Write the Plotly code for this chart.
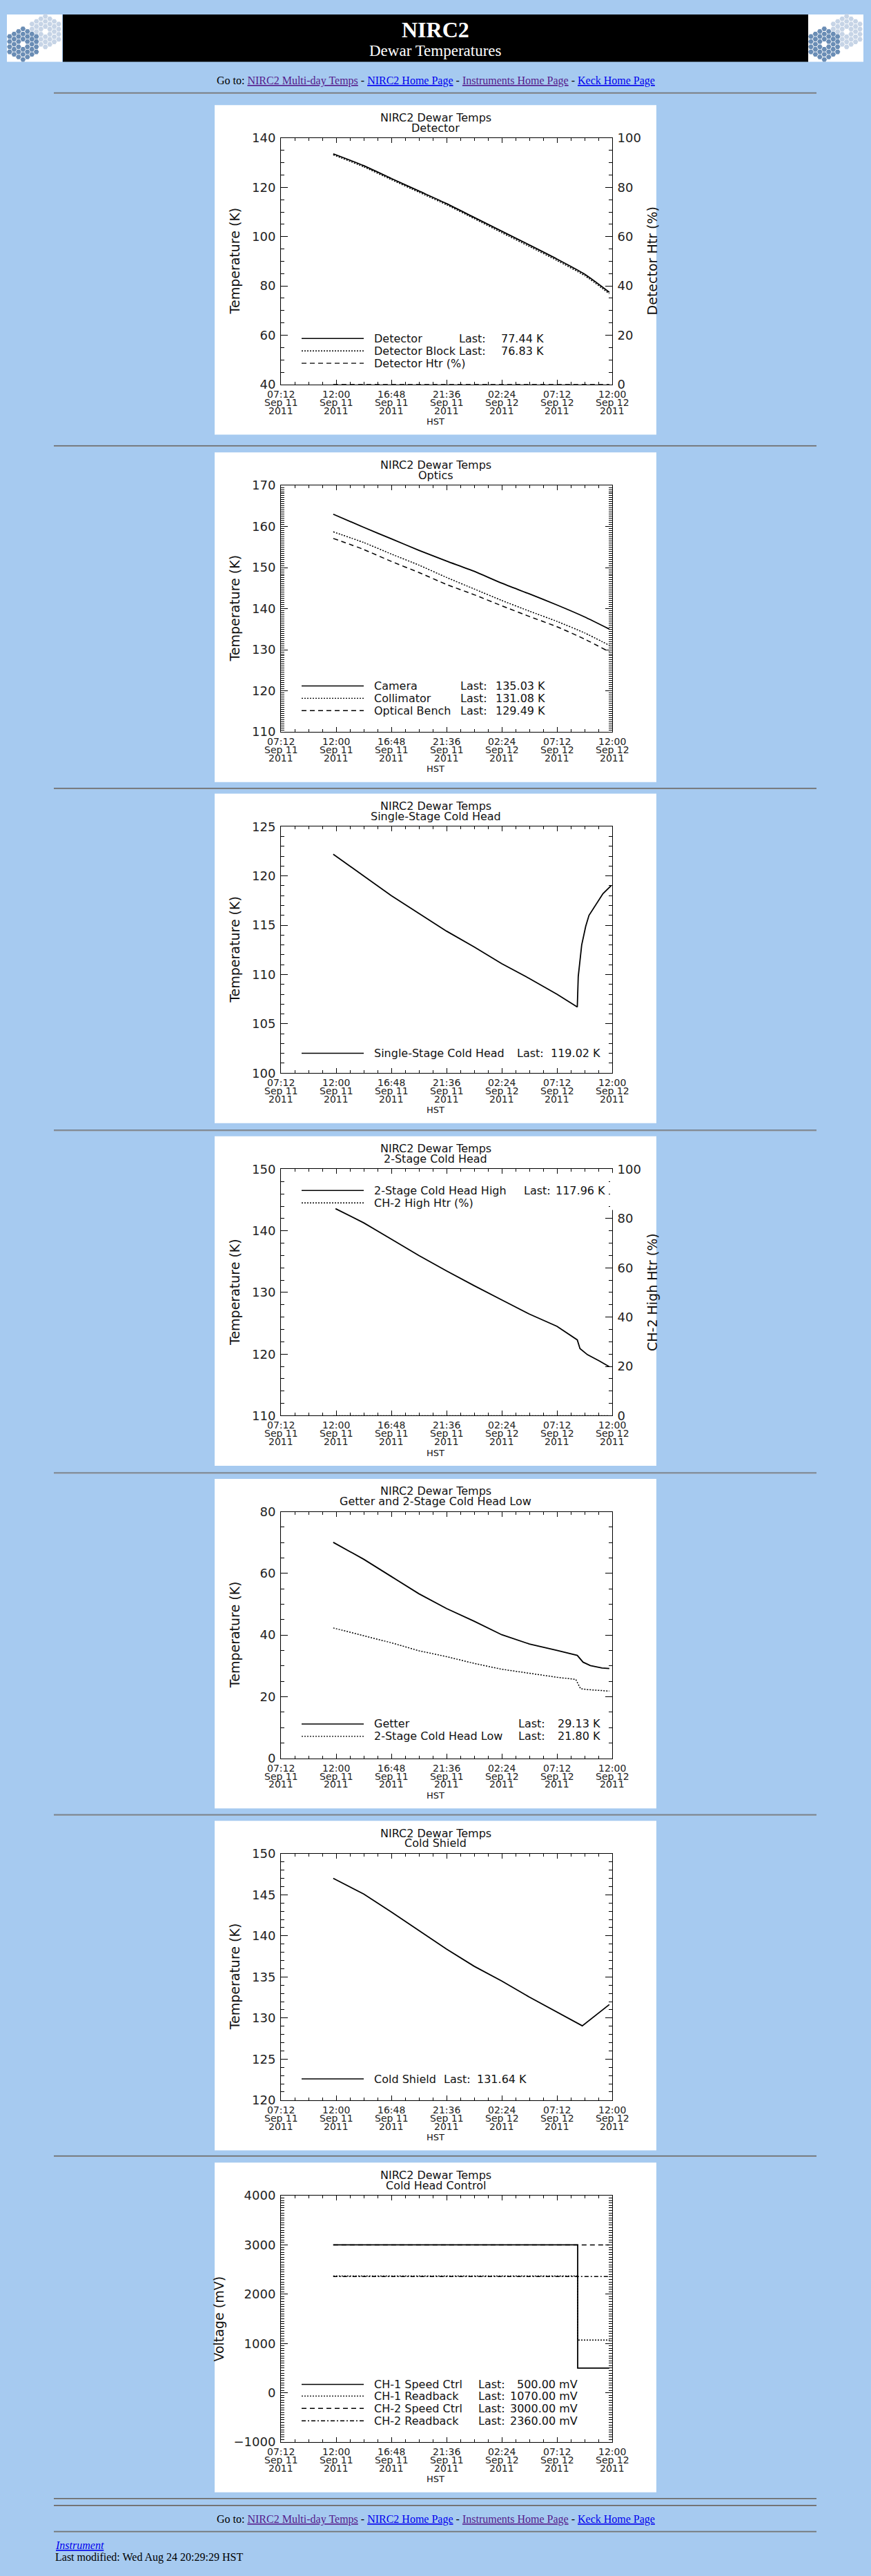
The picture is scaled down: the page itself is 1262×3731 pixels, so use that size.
import math
import plotly.graph_objects as go

W, H = 1262, 3731
BG = '#A6CAF0'
FONT = 'DejaVu Sans'
SERIF = 'Liberation Serif'

# ---------------- data ----------------
tick_times = ['2011-09-11 07:12', '2011-09-11 12:00', '2011-09-11 16:48', '2011-09-11 21:36',
              '2011-09-12 02:24', '2011-09-12 07:12', '2011-09-12 12:00']
tick_hhmm = ['07:12', '12:00', '16:48', '21:36', '02:24', '07:12', '12:00']
tick_day = ['Sep 11', 'Sep 11', 'Sep 11', 'Sep 11', 'Sep 12', 'Sep 12', 'Sep 12']
tick_year = ['2011'] * 7

grid_time = ['2011-09-11 11:45', '2011-09-11 14:24', '2011-09-11 16:48', '2011-09-11 19:12',
             '2011-09-11 21:36', '2011-09-12 00:00', '2011-09-12 02:24', '2011-09-12 04:48',
             '2011-09-12 07:12', '2011-09-12 09:36', '2011-09-12 11:45']

# detector
det_temp = [133.6, 128.8, 123.6, 118.5, 113.4, 107.8, 102.2, 96.6, 90.9, 84.8, 77.44]
det_block = [133.2, 128.3, 123.1, 118.0, 112.9, 107.3, 101.6, 96.0, 90.3, 84.2, 76.83]
htr_time = ['2011-09-11 11:45', '2011-09-12 11:45']
det_htr = [0, 0]

# optics
camera = [163.0, 159.8, 157.0, 154.2, 151.6, 149.1, 146.2, 143.6, 140.9, 138.0, 135.03]
collimator = [158.7, 156.1, 153.3, 150.6, 147.6, 144.8, 142.0, 139.4, 136.9, 134.1, 131.08]
bench = [157.1, 154.4, 151.5, 148.8, 145.9, 143.4, 140.7, 138.1, 135.6, 132.6, 129.49]

# single-stage cold head
ss_time = ['2011-09-11 11:45', '2011-09-11 14:24', '2011-09-11 16:48', '2011-09-11 19:12',
           '2011-09-11 21:36', '2011-09-12 00:00', '2011-09-12 02:24', '2011-09-12 04:48',
           '2011-09-12 07:12', '2011-09-12 08:58', '2011-09-12 09:03', '2011-09-12 09:21',
           '2011-09-12 09:42', '2011-09-12 09:59', '2011-09-12 10:36', '2011-09-12 11:12',
           '2011-09-12 11:55']
ss_head = [122.2, 120.0, 118.0, 116.2, 114.4, 112.8, 111.1, 109.6, 108.0, 106.7, 109.8,
           113.0, 114.9, 116.0, 117.1, 118.2, 119.02]

# 2-stage cold head high
cs2_time = ['2011-09-11 11:57', '2011-09-11 14:24', '2011-09-11 16:48', '2011-09-11 19:12',
            '2011-09-11 21:36', '2011-09-12 00:00', '2011-09-12 02:24', '2011-09-12 04:48',
            '2011-09-12 07:12', '2011-09-12 08:58', '2011-09-12 09:12', '2011-09-12 09:51',
            '2011-09-12 10:52', '2011-09-12 11:45']
cs2_high = [143.6, 141.3, 138.65, 136.0, 133.5, 131.1, 128.8, 126.5, 124.5, 122.3, 120.9,
            119.9, 118.9, 117.96]
cs2_htr = [0, 0]

# getter and 2-stage low
get_time = ['2011-09-11 11:45', '2011-09-11 14:24', '2011-09-11 16:48', '2011-09-11 19:12',
            '2011-09-11 21:36', '2011-09-12 00:00', '2011-09-12 02:24', '2011-09-12 04:48',
            '2011-09-12 07:12', '2011-09-12 08:58', '2011-09-12 09:28', '2011-09-12 10:06',
            '2011-09-12 11:07', '2011-09-12 11:45']
getter = [70.1, 64.6, 59.0, 53.4, 48.6, 44.5, 40.1, 37.1, 35.0, 33.4, 31.2, 30.1, 29.3, 29.13]
low_time = ['2011-09-11 11:45', '2011-09-11 14:24', '2011-09-11 16:48', '2011-09-11 19:12',
            '2011-09-11 21:36', '2011-09-12 00:00', '2011-09-12 02:24', '2011-09-12 04:48',
            '2011-09-12 07:12', '2011-09-12 08:50', '2011-09-12 09:15', '2011-09-12 09:51',
            '2011-09-12 11:45']
ch2_low = [42.3, 39.7, 37.5, 34.9, 33.0, 30.8, 28.9, 27.6, 26.3, 25.6, 22.6, 22.3, 21.80]

# cold shield
shield_time = ['2011-09-11 11:45', '2011-09-11 14:24', '2011-09-11 16:48', '2011-09-11 19:12',
               '2011-09-11 21:36', '2011-09-12 00:00', '2011-09-12 02:24', '2011-09-12 04:48',
               '2011-09-12 07:12', '2011-09-12 09:12', '2011-09-12 09:24', '2011-09-12 11:45']
shield = [147.0, 145.1, 142.9, 140.65, 138.4, 136.3, 134.5, 132.55, 130.7, 129.2, 129.05, 131.64]

# cold head control (step data)
ctl_time = ['2011-09-11 11:45', '2011-09-12 09:00', '2011-09-12 11:45']
ch1_speed = [3000, 500, 500]
ch1_read = [2370, 1070, 1070]
ch2_speed = [3000, 3000, 3000]
ch2_read = [2360, 2360, 2360]

# ---------------- helpers ----------------
def yp(p):
    return 1 - p / H


def xp(p):
    return p / W


SOLID, DOT, DASH, DASHDOT = 'solid', '2px,2px', '7px,5px', '6px,3px,2px,3px'
shapes = []
notes = []


def text(s, x, y, size, color='#111', family=FONT, **kw):
    d = dict(text=s, x=xp(x), y=yp(y), xref='paper', yref='paper', showarrow=False,
             xanchor='center', yanchor='middle',
             font=dict(family=family, size=size, color=color))
    d.update(kw)
    notes.append(d)


def hline(y, x0, x1, color, width=1, dash='solid', layer='above'):
    shapes.append(dict(type='line', xref='paper', yref='paper', x0=xp(x0), x1=xp(x1),
                       y0=yp(y), y1=yp(y), layer=layer,
                       line=dict(color=color, width=width, dash=dash)))


panels = [
    dict(top=142, sub='Detector', ylo=40, yhi=140, dtick=20, minor=5, smooth=True,
         series=[(grid_time, det_temp, SOLID), (grid_time, det_block, DOT)],
         right=dict(title='Detector Htr (%)', series=[(htr_time, det_htr, DASH)]),
         rows=[('Detector', 'Last:', '77.44 K', SOLID, 340),
               ('Detector Block', 'Last:', '76.83 K', DOT, 358),
               ('Detector Htr (%)', None, None, DASH, 376)],
         last_x=663, right_x=790),
    dict(top=648, sub='Optics', ylo=110, yhi=170, dtick=10, minor=0.5, smooth=True,
         series=[(grid_time, camera, SOLID), (grid_time, collimator, DOT), (grid_time, bench, DASH)],
         rows=[('Camera', 'Last:', '135.03 K', SOLID, 340),
               ('Collimator', 'Last:', '131.08 K', DOT, 358),
               ('Optical Bench', 'Last:', '129.49 K', DASH, 376)],
         last_x=665, right_x=792),
    dict(top=1145, sub='Single-Stage Cold Head', ylo=100, yhi=125, dtick=5, minor=1,
         series=[(ss_time, ss_head, SOLID)],
         rows=[('Single-Stage Cold Head', 'Last:', '119.02 K', SOLID, 378)],
         last_x=747, right_x=872),
    dict(top=1644, sub='2-Stage Cold Head', ylo=110, yhi=150, dtick=10, minor=2,
         series=[(cs2_time, cs2_high, SOLID)],
         right=dict(title='CH-2 High Htr (%)', series=[(htr_time, cs2_htr, DOT)]),
         rows=[('2-Stage Cold Head High', 'Last:', '117.96 K', SOLID, 79),
               ('CH-2 High Htr (%)', None, None, DOT, 97)],
         last_x=757, right_x=879),
    dict(top=2143, sub='Getter and 2-Stage Cold Head Low', ylo=0, yhi=80, dtick=20, minor=5,
         series=[(get_time, getter, SOLID), (low_time, ch2_low, DOT)],
         rows=[('Getter', 'Last:', '29.13 K', SOLID, 357),
               ('2-Stage Cold Head Low', 'Last:', '21.80 K', DOT, 375)],
         last_x=749, right_x=872),
    dict(top=2641, sub='Cold Shield', ylo=120, yhi=150, dtick=5, minor=1,
         series=[(shield_time, shield, SOLID)],
         rows=[('Cold Shield', 'Last:', '131.64 K', SOLID, 376)],
         last_x=641, right_x=765),
    dict(top=3139, sub='Cold Head Control', ylo=-1000, yhi=4000, dtick=1000, minor=50,
         ytitle='Voltage (mV)', ytitle_x=317, shape='hv',
         series=[(ctl_time, ch2_speed, DASH), (ctl_time, ch1_speed, SOLID),
                 (ctl_time, ch1_read, DOT), (ctl_time, ch2_read, DASHDOT)],
         rows=[('CH-1 Speed Ctrl', 'Last:', '500.00 mV', SOLID, 323),
               ('CH-1 Readback', 'Last:', '1070.00 mV', DOT, 340),
               ('CH-2 Speed Ctrl', 'Last:', '3000.00 mV', DASH, 358),
               ('CH-2 Readback', 'Last:', '2360.00 mV', DASHDOT, 376)],
         last_x=691, right_x=839),
]

fig = go.Figure()
layout = {}
PX0, PX1 = 311, 951      # panel
AX0, AX1 = 407, 887      # plot area
tickfont = dict(family=FONT, size=18, color='#222')
right_axes = iter([8, 9])

for i, p in enumerate(panels, start=1):
    top = p['top']
    ytop, ybot = top + 48, top + 407
    xa, ya = ('x' if i == 1 else f'x{i}'), ('y' if i == 1 else f'y{i}')
    shapes.append(dict(type='rect', xref='paper', yref='paper', x0=xp(PX0), x1=xp(PX1),
                       y0=yp(top + 480), y1=yp(top), fillcolor='white', line_width=0,
                       layer='below'))
    layout[f'xaxis{i}'] = dict(
        domain=[xp(AX0), xp(AX1)], anchor=ya, type='date',
        range=[tick_times[0], tick_times[-1]], tickmode='array', tickvals=tick_times,
        showticklabels=False, ticks='inside', ticklen=7, tickcolor='black', tickwidth=1,
        showline=True, linecolor='black', linewidth=1, mirror='ticks', showgrid=False,
        zeroline=False,
        minor=dict(tick0=tick_times[0], dtick=4320000, ticks='inside', ticklen=4,
                   tickcolor='black', tickwidth=1, showgrid=False))
    has_right = 'right' in p
    layout[f'yaxis{i}'] = dict(
        domain=[yp(ybot), yp(ytop)], anchor=xa, range=[p['ylo'], p['yhi']],
        tick0=p['ylo'], dtick=p['dtick'], ticks='inside', ticklen=10, tickcolor='black',
        tickwidth=1, showline=True, linecolor='black', linewidth=1,
        mirror=False if has_right else 'ticks', showgrid=False, zeroline=False,
        tickfont=tickfont, ticklabelstandoff=3,
        minor=dict(dtick=p['minor'], ticks='inside', ticklen=5, tickcolor='black',
                   tickwidth=1, showgrid=False))

    shape = 'spline' if p.get('smooth') else p.get('shape', 'linear')
    for xs, ys, dash in p['series']:
        fig.add_trace(go.Scatter(x=xs, y=ys, mode='lines', xaxis=xa, yaxis=ya,
                                 line=dict(color='black', width=1.8 if dash == SOLID else 1.5,
                                           dash=dash, shape=shape, smoothing=0.6),
                                 showlegend=False, hoverinfo='skip'))

    if has_right:
        k = next(right_axes)
        layout[f'yaxis{k}'] = dict(
            overlaying=ya, side='right', anchor=xa, range=[0, 100], dtick=20,
            ticks='inside', ticklen=10, tickcolor='black', tickwidth=1, showline=True,
            linecolor='black', linewidth=1, showgrid=False, zeroline=False,
            tickfont=tickfont, ticklabelstandoff=3,
            minor=dict(dtick=5, ticks='inside', ticklen=5, tickcolor='black', tickwidth=1))
        for xs, ys, dash in p['right']['series']:
            fig.add_trace(go.Scatter(x=xs, y=ys, mode='lines', xaxis=xa, yaxis=f'y{k}',
                                     line=dict(color='black', width=1.4, dash=dash),
                                     showlegend=False, hoverinfo='skip'))
        text(p['right']['title'], 945, (ytop + ybot) / 2, 19, textangle=-90)
        if k == 9:
            # legend box blanks part of the right axis
            shapes.append(dict(type='rect', xref='paper', yref=f'y{k}', x0=xp(AX1 - 3),
                               x1=xp(AX1 + 3), y0=83.5, y1=98.5, fillcolor='white',
                               line_width=0, layer='above'))

    # titles
    text('NIRC2 Dewar Temps', 631, top + 18, 16)
    text(p['sub'], 631, top + 33, 16)
    text(p.get('ytitle', 'Temperature (K)'), p.get('ytitle_x', 340), (ytop + ybot) / 2, 19,
         textangle=-90)

    # date tick labels
    for t, a, b, c in zip(tick_times, tick_hhmm, tick_day, tick_year):
        for s, dy in ((a, 14), (b, 26), (c, 38)):
            notes.append(dict(text=s, x=t, y=yp(ybot + dy), xref=xa, yref='paper',
                              xanchor='center', yanchor='middle', showarrow=False,
                              font=dict(family=FONT, size=14, color='#222')))
    text('HST', 631, ybot + 54, 13)

    # IDL style legend
    for name, last, val, dash, ry in p['rows']:
        y = top + ry
        hline(y, 437, 527, 'black', 1.4, dash)
        text(name, 540, y, 16, xanchor='left')
        if last:
            text(last, p['last_x'], y, 16, xanchor='left')
            text(val, p['right_x'], y, 16, xanchor='right')

# ---------------- page furniture ----------------
shapes.append(dict(type='rect', xref='paper', yref='paper', x0=xp(91), x1=xp(1171),
                   y0=yp(79), y1=yp(10), fillcolor='black', line_width=0, layer='below'))
for x0 in (10, 1171):
    shapes.append(dict(type='rect', xref='paper', yref='paper', x0=xp(x0), x1=xp(x0 + 80),
                       y0=yp(79), y1=yp(10), fillcolor='white', line_width=0, layer='below'))

# Keck mirror logo (36 hexagonal segments, twice)
cells = [(q, r) for q in range(-3, 4) for r in range(-3, 4)
         if 0 < max(abs(q), abs(r), abs(q + r)) <= 3]
step = 4.3
for x0 in (0, 1161):
    for cx, cy, col in ((x0 + 65.7, 35, '#c6d4e6'), (x0 + 33.3, 53.3, '#6a8db5')):
        fig.add_trace(go.Scatter(
            x=[cx + 1.5 * step * q for q, r in cells],
            y=[cy + math.sqrt(3) * step * (r + q / 2) for q, r in cells],
            mode='markers', xaxis='x8', yaxis='y10', cliponaxis=False,
            marker=dict(symbol='hexagon2', size=7.6, color=col, line_width=0),
            showlegend=False, hoverinfo='skip'))
layout['xaxis8'] = dict(domain=[0, 1], range=[0, W], visible=False, anchor='y10')
layout['yaxis10'] = dict(domain=[yp(90), 1], range=[90, 0], visible=False, anchor='x8')

text('<b>NIRC2</b>', 631, 32, 32, color='white', family=SERIF)
text('Dewar Temperatures', 631, 63, 23, color='white', family=SERIF)

VISITED, LINK = '#551A8B', '#0000EE'
goto = ('Go to: '
        f'<span style="color:{VISITED}"><u>NIRC2 Multi-day Temps</u></span> - '
        f'<span style="color:{LINK}"><u>NIRC2 Home Page</u></span> - '
        f'<span style="color:{VISITED}"><u>Instruments Home Page</u></span> - '
        f'<span style="color:{LINK}"><u>Keck Home Page</u></span>')
text(goto, 631, 107, 16, color='black', family=SERIF)
text(goto, 631, 3659, 16, color='black', family=SERIF)

for y in (124, 638, 1137, 1635, 2134, 2632, 3129, 3628, 3638, 3676):
    hline(y, 78, 1183, '#5c5c5c', 1)
    hline(y + 1, 78, 1183, '#8e8e8e', 1)

text(f'<span style="color:{LINK}"><i><u>Instrument</u></i></span>', 78, 3696, 16,
     family=SERIF, xanchor='left')
text('Last modified: Wed Aug 24 20:29:29 HST', 78, 3714, 16, color='black', family=SERIF,
     xanchor='left')

fig.update_layout(width=W, height=H, autosize=False, margin=dict(l=0, r=0, t=0, b=0),
                  paper_bgcolor=BG, plot_bgcolor='rgba(0,0,0,0)', shapes=shapes,
                  annotations=notes, showlegend=False, **layout)

fig.write_html("out.html", config={'displayModeBar': False},
               post_script="document.body.style.margin='0';"
                           "document.body.style.overflow='hidden';")
